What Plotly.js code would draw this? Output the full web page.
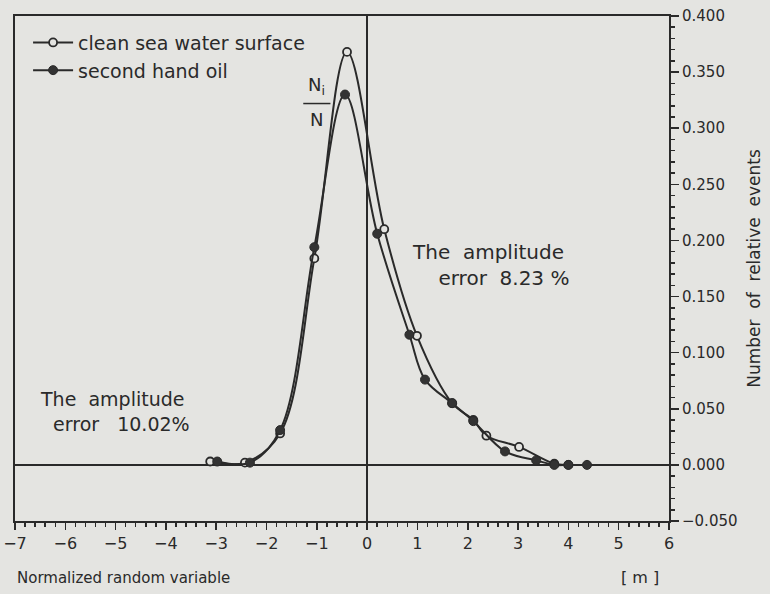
<!DOCTYPE html>
<html>
<head>
<meta charset="utf-8">
<script src="https://cdn.plot.ly/plotly-3.0.1.min.js"></script>
<style>html,body{margin:0;padding:0;background:#e4e4e1;}#chart{width:770px;height:594px;}</style>
</head>
<body>
<div id="chart"></div>
<script>
// Clean sea water surface (open circles)
var cleanX = [-3.12, -2.43, -1.73, -1.05, -0.40, 0.34, 0.99, 1.69, 2.11, 2.37, 3.02, 3.72, 4.00];
var cleanY = [0.003, 0.002, 0.028, 0.184, 0.368, 0.210, 0.115, 0.055, 0.040, 0.026, 0.016, 0.001, 0.000];
// Second hand oil (filled circles)
var oilX = [-2.98, -2.33, -1.73, -1.05, -0.44, 0.20, 0.84, 1.15, 1.69, 2.11, 2.74, 3.36, 3.72, 4.00, 4.37];
var oilY = [0.003, 0.002, 0.031, 0.194, 0.330, 0.206, 0.116, 0.076, 0.055, 0.039, 0.012, 0.004, 0.000, 0.000, 0.000];
var seriesNames = ['clean sea water surface', 'second hand oil'];
var yTickVals = [-0.05, 0, 0.05, 0.1, 0.15, 0.2, 0.25, 0.3, 0.35, 0.4];
var xTickVals = [-7, -6, -5, -4, -3, -2, -1, 0, 1, 2, 3, 4, 5, 6];

var ink = '#2a2a2a';
var bg = '#e4e4e1';
var fnt = 'DejaVu Sans, sans-serif';

var traces = [
  {x: cleanX, y: cleanY, name: seriesNames[0], mode: 'lines+markers',
   line: {color: ink, width: 2, shape: 'spline', smoothing: 1},
   marker: {symbol: 'circle', size: 8, color: bg, line: {color: ink, width: 1.8}}},
  {x: oilX, y: oilY, name: seriesNames[1], mode: 'lines+markers',
   line: {color: ink, width: 2, shape: 'spline', smoothing: 1},
   marker: {symbol: 'circle', size: 9, color: '#333', line: {color: ink, width: 1}}}
];

var layout = {
  width: 770, height: 594,
  margin: {l: 15, r: 101, t: 16, b: 73},
  paper_bgcolor: bg, plot_bgcolor: bg,
  font: {family: fnt, color: ink, size: 15},
  showlegend: true,
  legend: {x: 0.02, y: 0.985, xanchor: 'left', yanchor: 'top', bgcolor: 'rgba(0,0,0,0)',
           font: {size: 19, family: fnt, color: ink}, itemwidth: 40, tracegroupgap: 0},
  xaxis: {range: [-7, 6], tickvals: xTickVals, ticks: 'outside', ticklen: 7, tickwidth: 1.5, tickcolor: ink,
          showline: true, linecolor: ink, linewidth: 2, mirror: true, showgrid: false,
          zeroline: true, zerolinecolor: ink, zerolinewidth: 1.5,
          minor: {dtick: 0.2, ticks: 'outside', ticklen: 4, tickcolor: ink, showgrid: false},
          tickfont: {size: 16, family: fnt, color: ink}},
  yaxis: {range: [-0.05, 0.4], side: 'right', tickvals: yTickVals, tickformat: '.3f',
          ticks: 'outside', ticklen: 8, tickwidth: 1.5, tickcolor: ink,
          showline: true, linecolor: ink, linewidth: 2, mirror: true, showgrid: false,
          zeroline: true, zerolinecolor: ink, zerolinewidth: 1.5,
          minor: {dtick: 0.01, ticks: 'outside', ticklen: 4, tickcolor: ink, showgrid: false},
          tickfont: {size: 15, family: fnt, color: ink},
          title: {text: 'Number  of  relative  events', font: {size: 17, family: fnt, color: ink}, standoff: 12}},
  annotations: [
    {xref: 'paper', yref: 'paper', x: 0.0, y: -0.112, xanchor: 'left', yanchor: 'middle', showarrow: false,
     text: 'Normalized random variable', font: {size: 15, family: fnt, color: ink}},
    {xref: 'paper', yref: 'paper', x: 0.955, y: -0.112, xanchor: 'center', yanchor: 'middle', showarrow: false,
     text: '[ m ]', font: {size: 16, family: fnt, color: ink}},
    {xref: 'x', yref: 'y', x: 0.85, y: 0.178, xanchor: 'left', yanchor: 'middle', showarrow: false, align: 'left',
     text: 'The  amplitude<br>    error  8.23 %', font: {size: 20, family: fnt, color: ink}},
    {xref: 'x', yref: 'y', x: -6.55, y: 0.048, xanchor: 'left', yanchor: 'middle', showarrow: false, align: 'left',
     text: 'The  amplitude<br>  error   10.02%', font: {size: 19, family: fnt, color: ink}},
    {xref: 'x', yref: 'y', x: -1.0, y: 0.325, xanchor: 'center', yanchor: 'bottom', showarrow: false,
     text: 'N<sub>i</sub>', font: {size: 18, family: fnt, color: ink}},
    {xref: 'x', yref: 'y', x: -1.0, y: 0.319, xanchor: 'center', yanchor: 'top', showarrow: false,
     text: 'N', font: {size: 18, family: fnt, color: ink}}
  ],
  shapes: [
    {type: 'line', xref: 'x', yref: 'y', x0: -1.27, x1: -0.73, y0: 0.322, y1: 0.322, line: {color: ink, width: 1.5}}
  ]
};

Plotly.newPlot('chart', traces, layout, {displayModeBar: false, staticPlot: true});
</script>
</body>
</html>
